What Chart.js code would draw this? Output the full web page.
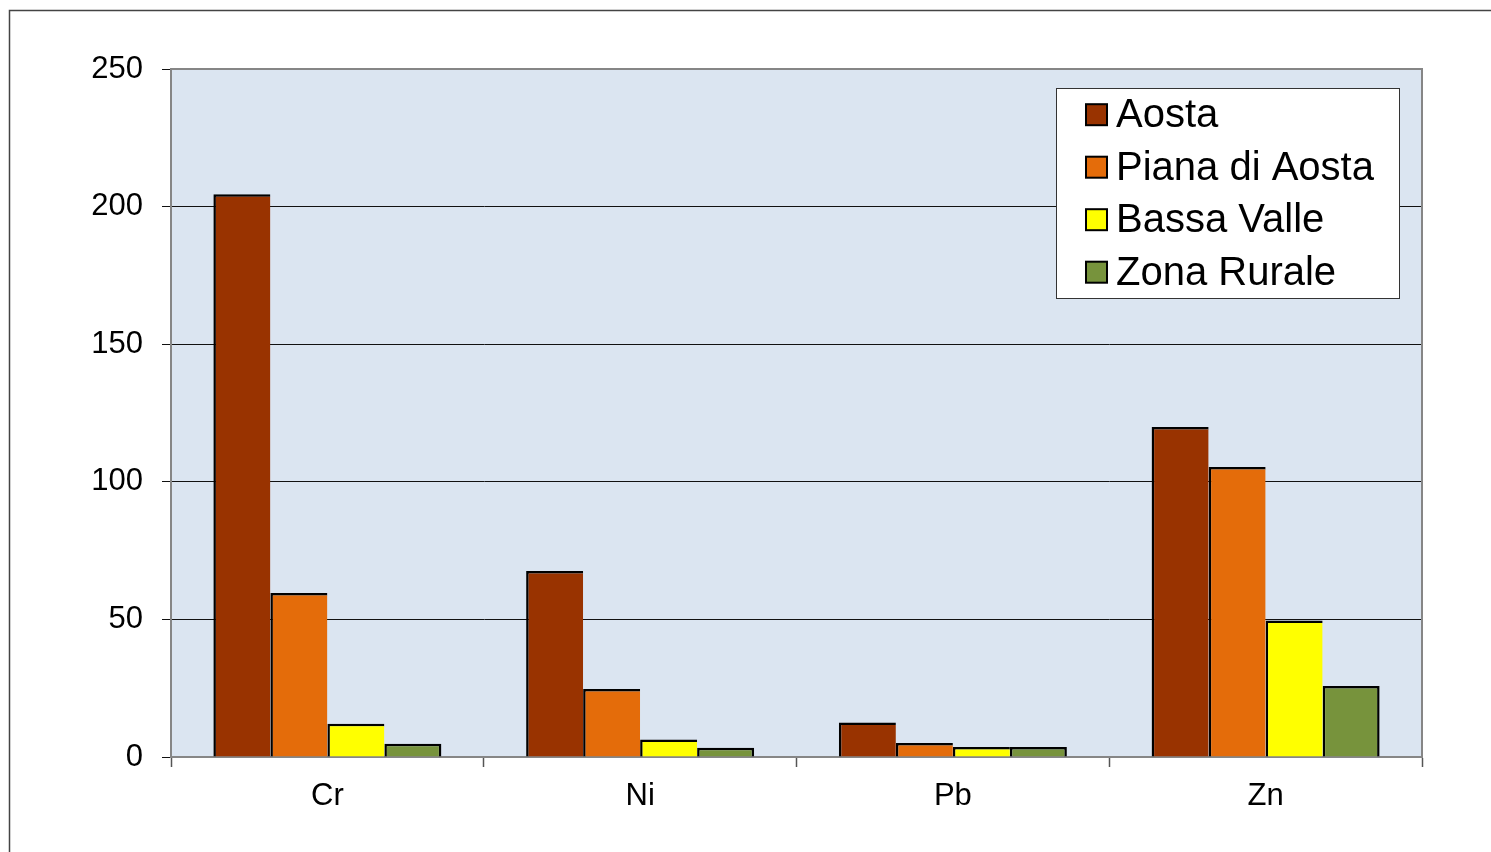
<!DOCTYPE html>
<html>
<head>
<meta charset="utf-8">
<script src="https://cdn.jsdelivr.net/npm/chart.js@4.4.1/dist/chart.umd.min.js"></script>
<style>
  html, body { margin: 0; padding: 0; background: #fff; overflow: hidden; }
  #wrap { position: relative; width: 1491px; height: 852px; }
</style>
</head>
<body>
<div id="wrap"><canvas id="c" width="1491" height="852"></canvas></div>
<script>
const categories = ['Cr', 'Ni', 'Pb', 'Zn'];
const seriesNames = ['Aosta', 'Piana di Aosta', 'Bassa Valle', 'Zona Rurale'];
const aosta = [204.5, 67.6, 12.5, 119.9];
const pianaDiAosta = [59.6, 24.7, 5.1, 105.4];
const bassaValle = [12.1, 6.4, 3.6, 49.6];
const zonaRurale = [4.8, 3.4, 3.6, 25.8];
const yTicks = [0, 50, 100, 150, 200, 250];

const colors = ['#993300', '#E46C0A', '#FFFF00', '#77933C'];
const values = [aosta, pianaDiAosta, bassaValle, zonaRurale];
const FONT = '"Liberation Sans", Arial, sans-serif';

const framePlugin = {
  id: 'frame',
  beforeDraw(chart) {
    const ctx = chart.ctx;
    const a = chart.chartArea;
    ctx.save();
    ctx.strokeStyle = '#444';
    ctx.lineWidth = 1.5;
    ctx.beginPath();
    ctx.moveTo(9.5, 852);
    ctx.lineTo(9.5, 10.5);
    ctx.lineTo(1491, 10.5);
    ctx.stroke();
    ctx.fillStyle = '#DBE5F1';
    ctx.fillRect(a.left, a.top, a.right - a.left, a.bottom - a.top);
    ctx.restore();
  },
  afterDatasetsDraw(chart) {
    const ctx = chart.ctx;
    const a = chart.chartArea;
    ctx.save();
    ctx.strokeStyle = '#868686';
    ctx.lineWidth = 2;
    ctx.beginPath();
    ctx.moveTo(a.left, a.top);
    ctx.lineTo(a.right, a.top);
    ctx.lineTo(a.right, a.bottom);
    ctx.stroke();
    ctx.restore();
  }
};

const legendPlugin = {
  id: 'boxLegend',
  afterDraw(chart) {
    const ctx = chart.ctx;
    const bx = 1056, by = 88.5, bw = 343, bh = 210;
    ctx.save();
    ctx.fillStyle = '#fff';
    ctx.fillRect(bx, by, bw, bh);
    ctx.strokeStyle = '#333';
    ctx.lineWidth = 1;
    ctx.strokeRect(bx + 0.5, by, bw, bh);
    ctx.font = '40px ' + FONT;
    ctx.textBaseline = 'alphabetic';
    ctx.textAlign = 'left';
    chart.data.datasets.forEach((ds, i) => {
      const cy = 114.7 + i * 52.5;
      ctx.fillStyle = ds.backgroundColor;
      ctx.fillRect(1086, cy - 10.5, 21, 21);
      ctx.strokeStyle = '#000';
      ctx.lineWidth = 2;
      ctx.strokeRect(1086, cy - 10.5, 21, 21);
      ctx.fillStyle = '#000';
      ctx.fillText(ds.label, 1116, cy + 12.5);
    });
    ctx.restore();
  }
};

const datasets = seriesNames.map((name, i) => ({
  label: name,
  data: values[i],
  backgroundColor: colors[i],
  borderColor: '#000',
  borderWidth: { top: 2.5, left: 2.5, right: i === seriesNames.length - 1 ? 2.5 : 0, bottom: 0 },
  borderSkipped: 'start',
  categoryPercentage: 0.729,
  barPercentage: 1.0
}));

new Chart(document.getElementById('c'), {
  type: 'bar',
  data: { labels: categories, datasets },
  options: {
    responsive: false,
    animation: false,
    devicePixelRatio: 1,
    layout: { padding: { top: 69, right: 69, left: 0, bottom: 0 } },
    plugins: { legend: { display: false }, tooltip: { enabled: false } },
    scales: {
      x: {
        grid: {
          offset: true,
          drawOnChartArea: false,
          drawTicks: true,
          tickLength: 10,
          tickColor: '#555',
          tickWidth: 1.5
        },
        border: { display: true, color: '#868686', width: 2 },
        ticks: {
          color: '#000',
          font: { size: 31, family: FONT },
          padding: 11,
          maxRotation: 0
        },
        afterFit(scale) { scale.height = 95; }
      },
      y: {
        min: 0,
        max: 250,
        afterBuildTicks(scale) { scale.ticks = yTicks.map(v => ({ value: v })); },
        grid: {
          color: (c) => (c.tick && c.tick.value === 250) ? '#868686' : '#111',
          lineWidth: 1,
          tickLength: 9,
          tickColor: '#111',
          drawTicks: true
        },
        border: { display: true, color: '#868686', width: 2 },
        ticks: {
          color: '#000',
          font: { size: 31, family: FONT },
          padding: 19
        },
        afterFit(scale) { scale.width = 171; }
      }
    }
  },
  plugins: [framePlugin, legendPlugin]
});
</script>
</body>
</html>
